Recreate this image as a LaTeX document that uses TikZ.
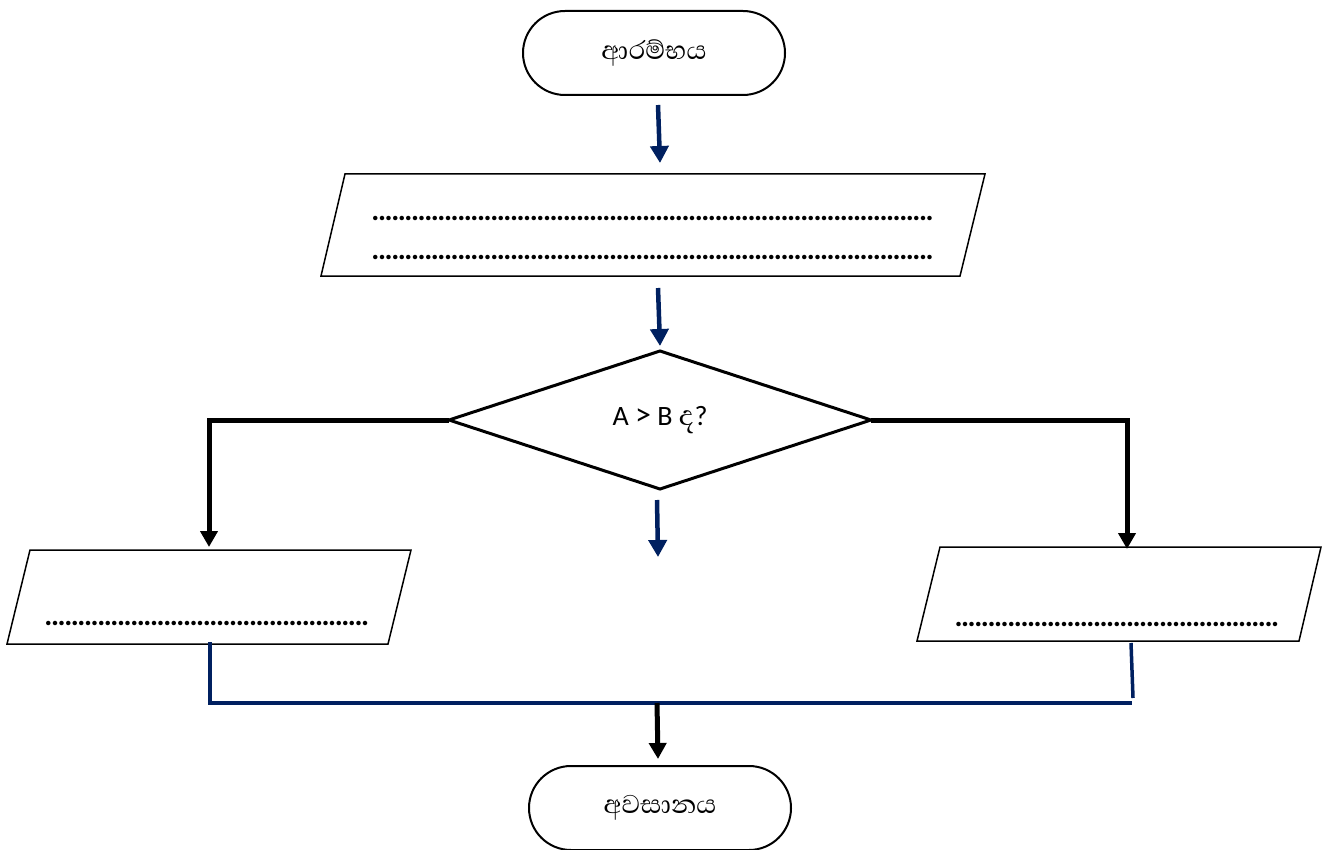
\documentclass[tikz,border=0pt]{standalone}
\usepackage{fontspec}
\setmainfont{Carlito}
\newfontfamily\sinhfont[Script=Sinhala]{Abhaya Libre}
\usetikzlibrary{shapes.geometric,shapes.misc,arrows.meta,calc}
\definecolor{navy}{HTML}{002060}
\newcommand\dotrow[1]{\hbox to #1pt{\leaders\hbox to 6.6pt{\hss.\hss}\hfill}}
\begin{document}
\begin{tikzpicture}[x=1pt,y=-1pt,
 term/.style={rounded rectangle, draw, line width=2pt, minimum width=262pt, minimum height=84pt, inner sep=0pt, outer sep=0pt, font=\sinhfont\fontsize{33}{36}\selectfont},
 iobox/.style={rectangle, inner sep=0pt, outer sep=0pt},
 ioline/.style={line width=1.5pt, line join=miter},
 decision/.style={diamond, draw, line width=3pt, minimum width=422pt, minimum height=138pt, shape aspect=3, inner sep=0pt, outer sep=0pt, font=\fontsize{28}{32}\selectfont},
 flowb/.style={draw=navy, line width=4.5pt, -{Triangle[length=17pt,width=18pt]}},
 flowk/.style={draw=black, line width=5pt, line join=miter, -{Triangle[length=16pt,width=17pt]}},
 joinb/.style={draw=navy, line width=3.5pt, line join=miter},
 dots/.style={font=\bfseries\fontsize{30}{32}\selectfont, inner sep=0pt, anchor=base west}
]
\useasboundingbox (0,0) rectangle (1327,850);

% start
\node[term] (start) at (654,53) {ආරම්භය};

% input box
\node[iobox, minimum width=664pt, minimum height=102pt] (in1) at (653,225) {};
\draw[ioline] (in1.south west) -- ($(in1.north west)+(24,0)$) -- (in1.north east) -- ($(in1.south east)+(-25,0)$) -- cycle;
\node[dots] (in1a) at (372,221) {\dotrow{566}};
\node[dots] (in1b) at (372,260) {\dotrow{566}};

% decision
\node[decision] (dec) at (660,420) {A {\fontsize{32}{32}\selectfont >} B {\sinhfont\fontsize{36}{36}\selectfont ද}?};

% left output
\node[iobox, minimum width=404pt, minimum height=94pt] (lin) at (209,597) {};
\draw[ioline] (lin.south west) -- ($(lin.north west)+(23,0)$) -- (lin.north east) -- ($(lin.south east)+(-23,0)$) -- cycle;
\node[dots] (lint) at (45,625) {\dotrow{326}};

% right output
\node[iobox, minimum width=404pt, minimum height=94pt] (rin) at (1119,594) {};
\draw[ioline] (rin.south west) -- ($(rin.north west)+(23,0)$) -- (rin.north east) -- ($(rin.south east)+(-22,0)$) -- cycle;
\node[dots] (rint) at (955,626) {\dotrow{327}};

% end
\node[term] (end) at (660,808) {අවසානය};

% connectors
\draw[flowb] ($(start.south)+(4,10)$) -- ($(in1.north)+(7,-11)$);
\draw[flowb] ($(in1.south)+(5,12)$) -- ($(dec.north)+(0,-5)$);
\coordinate (dang) at (658,557);
\draw[flowb] ($(dec.south)+(-3,11)$) -- (dang);
\draw[flowk] (dec.west) -| ($(lin.north)+(0,-3)$);
\draw[flowk] (dec.east) -| ($(rin.north)+(8,2)$);

\coordinate (jr) at (1132,703);
\draw[joinb] ($(lin.south)+(1,-2)$) |- (jr);
\coordinate (jr2) at (1133,698);
\draw[joinb] ($(rin.south)+(12,2)$) -- (jr2);
\coordinate (jm) at (657,703);
\draw[flowk] (jm) -- ($(end.north)+(-2,-7)$);
\end{tikzpicture}
\end{document}
